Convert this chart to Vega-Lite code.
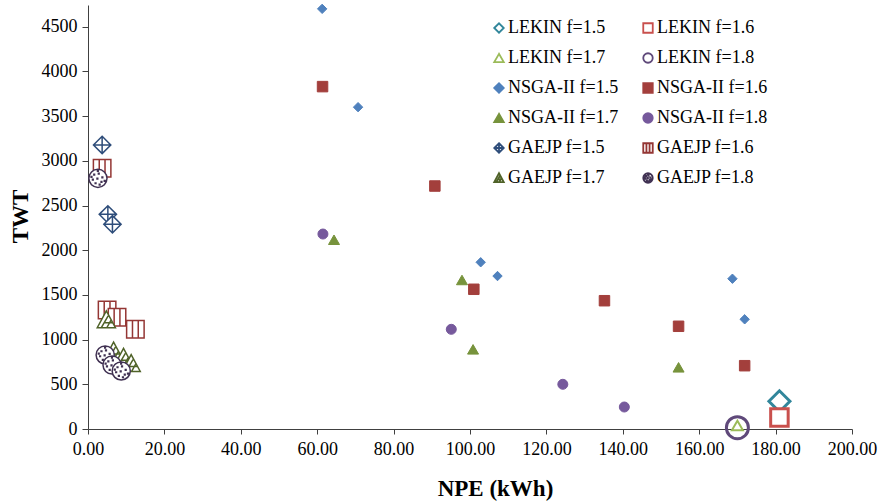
{
  "$schema": "https://vega.github.io/schema/vega-lite/v6.json",
  "autosize": "none",
  "width": 764,
  "height": 424,
  "padding": {"left": 88, "top": 5, "right": 28, "bottom": 73},
  "background": "white",
  "config": {
    "view": {"stroke": null},
    "axis": {
      "grid": false,
      "labelFont": "Liberation Serif",
      "labelFontSize": 18,
      "labelColor": "black",
      "labelFlush": false,
      "labelOverlap": false,
      "titleFont": "Liberation Serif",
      "titleFontSize": 23,
      "titleFontWeight": "bold",
      "titleColor": "black",
      "domainColor": "#404040",
      "tickColor": "#404040",
      "tickSize": 5
    },
    "legend": {
      "orient": "none",
      "direction": "horizontal",
      "legendX": 402,
      "legendY": 14,
      "columns": 2,
      "columnPadding": 20,
      "rowPadding": 12,
      "padding": 0,
      "symbolSize": 90,
      "symbolStrokeWidth": 1.8,
      "labelFont": "Liberation Serif",
      "labelFontSize": 18,
      "labelColor": "black",
      "labelOffset": 0,
      "labelLimit": 300
    }
  },
  "data": {
    "values": [
      {"s": "LEKIN f=1.5", "x": 181, "y": 310},
      {"s": "LEKIN f=1.6", "x": 181, "y": 130},
      {"s": "LEKIN f=1.7", "x": 170, "y": 40},
      {"s": "LEKIN f=1.8", "x": 170, "y": 15},
      {"s": "NSGA-II f=1.5", "x": 61.3, "y": 4700},
      {"s": "NSGA-II f=1.5", "x": 70.7, "y": 3600},
      {"s": "NSGA-II f=1.5", "x": 102.8, "y": 1865},
      {"s": "NSGA-II f=1.5", "x": 107.2, "y": 1711},
      {"s": "NSGA-II f=1.5", "x": 168.7, "y": 1681},
      {"s": "NSGA-II f=1.5", "x": 171.9, "y": 1227},
      {"s": "NSGA-II f=1.6", "x": 61.4, "y": 3830},
      {"s": "NSGA-II f=1.6", "x": 90.8, "y": 2718},
      {"s": "NSGA-II f=1.6", "x": 101, "y": 1563},
      {"s": "NSGA-II f=1.6", "x": 135.2, "y": 1435},
      {"s": "NSGA-II f=1.6", "x": 154.6, "y": 1149},
      {"s": "NSGA-II f=1.6", "x": 171.9, "y": 708},
      {"s": "NSGA-II f=1.7", "x": 64.4, "y": 2117},
      {"s": "NSGA-II f=1.7", "x": 97.9, "y": 1667},
      {"s": "NSGA-II f=1.7", "x": 100.8, "y": 891},
      {"s": "NSGA-II f=1.7", "x": 154.6, "y": 690},
      {"s": "NSGA-II f=1.8", "x": 61.5, "y": 2181},
      {"s": "NSGA-II f=1.8", "x": 95.1, "y": 1115},
      {"s": "NSGA-II f=1.8", "x": 124.3, "y": 500},
      {"s": "NSGA-II f=1.8", "x": 140.4, "y": 246},
      {"s": "GAEJP f=1.5", "x": 3.7, "y": 3177},
      {"s": "GAEJP f=1.5", "x": 5.2, "y": 2401},
      {"s": "GAEJP f=1.5", "x": 6.4, "y": 2290},
      {"s": "GAEJP f=1.6", "x": 3.7, "y": 2916},
      {"s": "GAEJP f=1.6", "x": 5.0, "y": 1331},
      {"s": "GAEJP f=1.6", "x": 7.6, "y": 1249},
      {"s": "GAEJP f=1.6", "x": 12.4, "y": 1115},
      {"s": "GAEJP f=1.7", "x": 4.8, "y": 1219},
      {"s": "GAEJP f=1.7", "x": 6.7, "y": 870},
      {"s": "GAEJP f=1.7", "x": 9.3, "y": 800},
      {"s": "GAEJP f=1.7", "x": 11.3, "y": 730},
      {"s": "GAEJP f=1.8", "x": 2.6, "y": 2804},
      {"s": "GAEJP f=1.8", "x": 4.5, "y": 828},
      {"s": "GAEJP f=1.8", "x": 6.3, "y": 716},
      {"s": "GAEJP f=1.8", "x": 8.7, "y": 649}
    ]
  },
  "mark": {"type": "point", "filled": false, "opacity": 1},
  "encoding": {
    "x": {
      "field": "x", "type": "quantitative",
      "scale": {"domain": [0, 200], "nice": false, "zero": false},
      "axis": {
        "title": "NPE (kWh)",
        "values": [0, 20, 40, 60, 80, 100, 120, 140, 160, 180, 200],
        "format": ".2f",
        "labelFont": "Liberation Serif",
        "labelPadding": 6,
        "titleX": 407, "titleY": 59, "titleBaseline": "middle", "titleAnchor": null
      }
    },
    "y": {
      "field": "y", "type": "quantitative",
      "scale": {"domain": [0, 4743], "nice": false, "zero": false},
      "axis": {
        "title": "TWT",
        "values": [0, 500, 1000, 1500, 2000, 2500, 3000, 3500, 4000, 4500],
        "format": "d",
        "labelFont": "Liberation Serif",
        "tickSize": 6,
        "labelPadding": 5,
        "titleX": -68, "titleY": 211, "titleBaseline": "middle", "titleAngle": -90
      }
    },
    "shape": {
      "field": "s", "type": "nominal",
      "scale": {
        "domain": ["LEKIN f=1.5", "LEKIN f=1.6", "LEKIN f=1.7", "LEKIN f=1.8", "NSGA-II f=1.5", "NSGA-II f=1.6", "NSGA-II f=1.7", "NSGA-II f=1.8", "GAEJP f=1.5", "GAEJP f=1.6", "GAEJP f=1.7", "GAEJP f=1.8"],
        "range": ["diamond", "square", "triangle-up", "circle", "diamond", "square", "triangle-up", "circle",
          "M0,-1L1,0L0,1L-1,0Z M0,-1L0,1 M-1,0L1,0",
          "M-1,-1H1V1H-1Z M-0.33,-1V1 M0.33,-1V1",
          "M0,-1L1,0.85L-1,0.85Z M-0.55,0.85L0.2,-0.45 M0.05,0.85L0.5,0.05 M-0.25,0.3L0.65,0.3",
          "M1,0A1,1,0,1,1,-1,0A1,1,0,1,1,1,0Z M-0.45,-0.45h0.08v0.08h-0.08Z M0.05,-0.55h0.08v0.08h-0.08Z M0.45,-0.15h0.08v0.08h-0.08Z M-0.6,0.1h0.08v0.08h-0.08Z M-0.1,0h0.08v0.08h-0.08Z M0.35,0.35h0.08v0.08h-0.08Z M-0.3,0.5h0.08v0.08h-0.08Z M0.15,0.65h0.08v0.08h-0.08Z M-0.05,-0.85h0.08v0.08h-0.08Z M0.7,0.25h0.08v0.08h-0.08Z M-0.75,-0.2h0.08v0.08h-0.08Z"
        ]
      },
      "legend": {"title": null, "orient": "none"}
    },
    "stroke": {
      "field": "s", "type": "nominal",
      "scale": {
        "domain": ["LEKIN f=1.5", "LEKIN f=1.6", "LEKIN f=1.7", "LEKIN f=1.8", "NSGA-II f=1.5", "NSGA-II f=1.6", "NSGA-II f=1.7", "NSGA-II f=1.8", "GAEJP f=1.5", "GAEJP f=1.6", "GAEJP f=1.7", "GAEJP f=1.8"],
        "range": ["#31869B", "#C9504D", "#9BBB59", "#5F497A", "#4F81BD", "#A33F3C", "#77933C", "#76599C", "#2E4D7A", "#943634", "#4F6228", "#403152"]
      },
      "legend": {"title": null, "orient": "none"}
    },
    "fill": {
      "field": "s", "type": "nominal",
      "scale": {
        "domain": ["LEKIN f=1.5", "LEKIN f=1.6", "LEKIN f=1.7", "LEKIN f=1.8", "NSGA-II f=1.5", "NSGA-II f=1.6", "NSGA-II f=1.7", "NSGA-II f=1.8", "GAEJP f=1.5", "GAEJP f=1.6", "GAEJP f=1.7", "GAEJP f=1.8"],
        "range": ["white", "white", "white", "transparent", "#4F81BD", "#A33F3C", "#77933C", "#76599C", "white", "white", "white", "white"]
      },
      "legend": {"title": null, "orient": "none"}
    },
    "size": {
      "field": "s", "type": "nominal",
      "scale": {
        "type": "ordinal",
        "domain": ["GAEJP f=1.8", "GAEJP f=1.7", "GAEJP f=1.6", "GAEJP f=1.5", "NSGA-II f=1.8", "NSGA-II f=1.7", "NSGA-II f=1.6", "NSGA-II f=1.5", "LEKIN f=1.8", "LEKIN f=1.7", "LEKIN f=1.6", "LEKIN f=1.5"],
        "range": [330, 330, 306, 300, 100, 121, 110, 88, 484, 121, 306, 441]
      },
      "legend": null
    },
    "strokeWidth": {
      "field": "s", "type": "nominal",
      "scale": {
        "type": "ordinal",
        "domain": ["NSGA-II f=1.5", "NSGA-II f=1.6", "NSGA-II f=1.7", "NSGA-II f=1.8", "LEKIN f=1.5", "LEKIN f=1.6", "LEKIN f=1.7", "LEKIN f=1.8", "GAEJP f=1.5", "GAEJP f=1.6", "GAEJP f=1.7", "GAEJP f=1.8"],
        "range": [1, 1, 1, 1, 3, 3, 2, 3, 1.5, 1.5, 1.5, 1.5]
      },
      "legend": null
    }
  }
}
